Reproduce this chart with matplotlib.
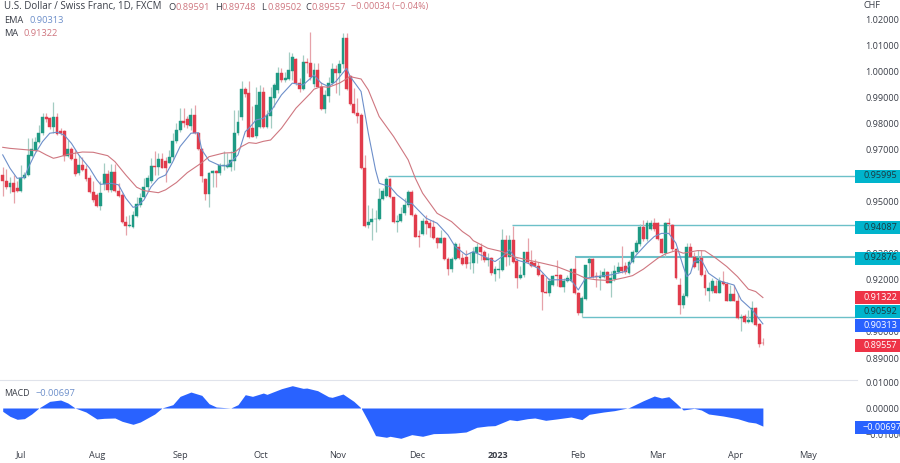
import matplotlib
matplotlib.use('Agg')
import matplotlib.pyplot as plt
from matplotlib.patches import Rectangle
import numpy as np

plt.rcParams['font.family'] = ['Open Sans', 'DejaVu Sans']

# daily candles, price x 10000
opens = [9602,9580,9555,9570,9551,9541,9589,9602,9676,9698,
         9730,9762,9826,9819,9785,9823,9772,9770,9675,9703,
         9663,9608,9642,9624,9589,9538,9525,9484,9568,9605,
         9545,9614,9542,9525,9423,9407,9401,9446,9487,9516,
         9555,9577,9637,9631,9662,9657,9649,9670,9734,9775,
         9809,9815,9791,9832,9762,9700,9585,9529,9608,9616,
         9608,9637,9634,9634,9657,9762,9823,9930,9915,9781,
         9752,9787,9922,9787,9828,9899,9928,9994,9966,9969,
         10002,10046,9954,9931,10034,10030,9951,10005,9941,9854,
         9905,9954,10007,9992,10028,10126,9983,9874,9841,9832,
         9628,9409,9422,9433,9433,9510,9523,9587,9516,9421,
         9427,9455,9485,9538,9449,9368,9376,9426,9417,9404,
         9359,9343,9359,9280,9242,9280,9325,9284,9287,9264,
         9266,9304,9325,9308,9276,9283,9223,9238,9238,9353,
         9287,9353,9272,9206,9219,9306,9267,9264,9253,9219,
         9155,9151,9180,9219,9219,9174,9197,9197,9241,9149,
         9072,9125,9266,9279,9215,9206,9212,9229,9189,9202,
         9229,9248,9251,9225,9270,9308,9338,9404,9356,9394,
         9419,9419,9356,9304,9417,9410,9320,9180,9104,9138,
         9325,9289,9266,9283,9219,9157,9157,9177,9151,9193,
         9184,9120,9146,9120,9053,9062,9040,9040,9091,9030,8959]
closes = [9580,9555,9570,9538,9541,9592,9602,9679,9700,9730,
          9762,9826,9816,9785,9826,9758,9764,9675,9703,9662,
          9606,9642,9621,9585,9538,9506,9484,9534,9605,9545,
          9614,9542,9523,9423,9407,9410,9449,9490,9515,9557,
          9589,9637,9631,9662,9630,9630,9670,9734,9775,9809,
          9800,9794,9832,9762,9700,9598,9529,9608,9616,9608,
          9640,9640,9640,9660,9762,9806,9930,9913,9749,9749,
          9870,9922,9785,9832,9902,9947,9994,9966,9973,10005,
          10056,9954,9931,10034,10030,9977,10005,9941,9854,9909,
          9954,10007,9992,10028,10126,9931,9874,9841,9828,9628,
          9407,9422,9435,9435,9510,9541,9587,9516,9421,9427,
          9453,9485,9538,9449,9366,9364,9426,9413,9400,9359,
          9343,9359,9280,9242,9280,9338,9284,9260,9261,9266,
          9308,9325,9308,9276,9283,9225,9241,9241,9353,9287,
          9353,9270,9206,9219,9306,9267,9253,9251,9219,9155,
          9151,9197,9215,9215,9174,9197,9206,9241,9149,9072,
          9129,9255,9279,9210,9209,9215,9229,9189,9206,9232,
          9248,9235,9228,9270,9308,9343,9404,9356,9417,9419,
          9394,9356,9304,9419,9414,9317,9206,9104,9138,9325,
          9289,9248,9283,9219,9168,9168,9197,9151,9197,9184,
          9120,9146,9120,9053,9059,9040,9044,9091,9027,8954,8956]
highs = [9631,9626,9593,9602,9577,9640,9615,9743,9743,9749,
         9794,9841,9841,9826,9883,9839,9781,9775,9736,9711,
         9698,9679,9672,9640,9602,9577,9532,9577,9649,9621,
         9644,9644,9570,9532,9445,9449,9462,9519,9532,9589,
         9602,9666,9692,9685,9685,9672,9698,9762,9800,9858,
         9858,9828,9858,9870,9768,9704,9589,9615,9621,9621,
         9647,9692,9685,9692,9851,9851,9964,9941,9964,9867,
         9941,9947,9941,9851,9941,9954,10017,10011,9998,10075,
         10069,10049,9973,10062,10049,10152,10030,10030,9960,9928,
         9979,10030,10024,10043,10148,10145,9985,9934,9896,9839,
         9679,9487,9474,9468,9551,9551,9596,9589,9519,9449,
         9481,9513,9545,9545,9455,9391,9436,9449,9430,9430,
         9366,9391,9366,9289,9289,9346,9340,9302,9315,9308,
         9327,9340,9340,9315,9302,9289,9251,9276,9394,9372,
         9372,9407,9283,9251,9308,9359,9315,9279,9270,9225,
         9212,9206,9219,9276,9223,9206,9219,9244,9287,9155,
         9136,9257,9287,9283,9228,9238,9244,9232,9232,9257,
         9270,9330,9270,9276,9315,9353,9414,9430,9430,9430,
         9436,9423,9359,9423,9436,9414,9321,9206,9148,9340,
         9340,9308,9315,9315,9238,9193,9206,9200,9212,9232,
         9193,9180,9180,9149,9069,9069,9085,9117,9094,9033,8975]
lows = [9522,9550,9532,9496,9538,9538,9586,9598,9672,9692,
        9724,9755,9807,9777,9762,9755,9755,9657,9672,9660,
        9598,9602,9619,9580,9532,9500,9481,9468,9545,9538,
        9538,9538,9519,9417,9372,9404,9398,9442,9481,9513,
        9545,9573,9602,9602,9628,9576,9647,9660,9723,9768,
        9787,9781,9775,9759,9698,9576,9506,9481,9557,9557,
        9602,9621,9628,9619,9621,9755,9813,9902,9743,9746,
        9743,9781,9781,9781,9781,9864,9915,9960,9960,9966,
        9966,9947,9922,9928,9992,9966,9941,9938,9851,9839,
        9883,9947,9915,9909,10011,9928,9870,9836,9800,9624,
        9401,9398,9353,9385,9430,9506,9519,9513,9417,9385,
        9423,9449,9481,9445,9363,9325,9372,9376,9366,9355,
        9321,9340,9276,9219,9231,9276,9279,9257,9244,9241,
        9225,9264,9276,9270,9251,9219,9197,9206,9232,9251,
        9257,9266,9168,9202,9212,9264,9248,9248,9215,9085,
        9148,9138,9177,9177,9171,9155,9193,9193,9146,9065,
        9056,9123,9212,9206,9174,9161,9206,9187,9133,9197,
        9225,9225,9223,9223,9264,9304,9330,9350,9347,9391,
        9389,9353,9302,9287,9376,9312,9202,9069,9091,9133,
        9287,9244,9238,9215,9142,9117,9148,9148,9148,9180,
        9117,9117,9117,9049,9005,9036,9036,9033,9023,8941,8950]

ma_idx = [0,2,7,10,12,14,15,18,22,25,29,31,34,37,39,43,45,48,51,55,57,61,64,66,68,70,72,74,77,81,85,86,
          88,90,93,96,99,101,104,108,112,114,116,120,124,127,129,130,134,138,141,145,149,153,156,159,161,
          164,168,172,174,177,181,183,186,188,192,194,197,200,203,206,208,210]
ma_vals = [9708,9704,9698,9694,9679,9666,9669,9681,9690,9689,9676,9653,9602,9555,9542,9534,9545,9573,9611,9649,9672,9686,9688,9711,9726,9723,9731,9736,9781,9858,9915,9931,
           9941,9938,9954,9979,9970,9928,9826,9749,9660,9589,9532,9455,9423,9385,9366,9350,9321,9308,9289,9276,9264,9251,9235,9219,9206,
           9200,9197,9209,9216,9241,9283,9299,9312,9302,9312,9311,9283,9251,9212,9164,9155,9132]

ema_idx = [0,2,4,6,7,9,11,13,15,17,19,21,24,26,27,30,32,34,36,37,39,41,43,45,47,49,52,54,55,57,60,62,65,67,68,70,72,74,77,80,83,86,
           88,90,92,95,96,99,101,103,104,107,109,112,113,117,120,123,125,128,130,133,136,138,140,142,145,148,151,154,157,159,161,164,168,172,
           175,178,180,182,184,186,188,189,190,191,193,195,198,202,204,207,209,210]
ema_vals = [9679,9628,9589,9593,9628,9685,9730,9762,9766,9755,9723,9679,9628,9583,9566,9570,9564,9513,9478,9481,9506,9557,9589,9602,9653,9711,9762,9764,9698,9657,9638,9637,9679,9768,9781,9813,9819,9845,9909,9954,9947,9985,
            9954,9941,9960,10011,9979,9922,9762,9621,9570,9557,9525,9493,9493,9436,9417,9372,9327,9295,9308,9289,9270,9289,9315,9276,9264,9244,9200,9200,9200,9161,9206,9212,9219,9232,
            9295,9340,9366,9378,9378,9340,9251,9212,9225,9270,9276,9225,9196,9180,9123,9085,9049,9031]

# MACD, x 100000
macd_idx = [0,2,4,6,8,10,13,16,18,20,23,26,28,31,33,36,38,42,44,47,49,52,55,57,59,63,65,67,69,72,73,77,80,83,84,87,90,91,94,97,99,101,103,106,107,110,113,116,119,123,
            125,128,131,134,136,140,142,145,147,150,153,157,160,162,166,169,173,177,180,182,184,186,188,191,193,195,199,203,206,208,210]
macd_vals = [-128,-320,-435,-410,-230,0,256,307,192,0,-154,-422,-397,-384,-512,-627,-538,-230,0,128,448,614,486,166,38,0,128,512,448,576,525,742,858,755,768,666,435,410,538,256,0,-512,-1062,-1126,-1088,-1165,-1024,-1088,-986,-973,
             -960,-922,-742,-691,-678,-448,-486,-410,-384,-474,-422,-346,-448,-243,-154,-102,13,282,461,384,435,192,-77,-13,-77,-230,-307,-410,-538,-576,-697]

# support / resistance levels: price, first candle
level_prices = [0.95995, 0.94087, 0.92876, 0.90592]
level_starts = [106.5, 140.7, 158, 160]
level_widths = [1.0, 1.0, 1.5, 1.0]

month_ticks = [5, 26, 49, 71.4, 92.6, 114.4, 136.8, 159, 180.8, 202.3, 222.5]
month_labels = ['Jul', 'Aug', 'Sep', 'Oct', 'Nov', 'Dec', '2023', 'Feb', 'Mar', 'Apr', 'May']
# 0.96, 0.94 and 0.91 sit fully behind the price tags
price_ticks = [1.02, 1.01, 1.00, 0.99, 0.98, 0.97, 0.95, 0.93, 0.92, 0.90, 0.89]
macd_ticks = [0.01, 0.0, -0.01]

# tag text, colours, pixel row of the tag on the price scale
tag_labels = ['0.95995', '0.94087', '0.92876', '0.91322', '0.90592', '0.90313', '0.89557', '\u22120.00697']
tag_rows = [176, 227, 258, 297, 311, 325.5, 345, 427]
tag_colors = ['#00b4cc', '#00b4cc', '#00b4cc', '#ee3347', '#00b4cc', '#2962ff', '#ee3347', '#2962ff']
tag_text = ['#1c3a42', '#1c3a42', '#1c3a42', 'white', '#1c3a42', 'white', 'white', 'white']

GREEN = '#1e9a84'
RED = '#e13c4c'
GREEN_WICK = '#a3ccc2'
RED_WICK = '#e6a2a9'
EMA_COL = '#6d8fca'
MA_COL = '#cf7780'
LEVEL_COL = '#6cc0c8'
TEXT = '#3a3e48'

o = np.array(opens) / 1e4
c = np.array(closes) / 1e4
h = np.array(highs) / 1e4
l = np.array(lows) / 1e4
idx = np.arange(len(o))
up = c >= o

fig = plt.figure(figsize=(9.0, 4.63), dpi=100)
W, H = 900.0, 463.0
XLIM = (-0.75, 236)

ax = fig.add_axes([0, 1 - 379 / H, 857 / W, 379 / H])
ax.set_xlim(*XLIM)
ax.set_ylim(0.88196, 1.02729)

for price, start, lw in zip(level_prices, level_starts, level_widths):
    ax.hlines(price, start, XLIM[1], color=LEVEL_COL, lw=lw, zorder=1)

ax.vlines(idx[up], l[up], h[up], color=GREEN_WICK, lw=0.9, zorder=2)
ax.vlines(idx[~up], l[~up], h[~up], color=RED_WICK, lw=0.9, zorder=2)
ax.bar(idx[up], (c - o)[up], bottom=o[up], width=0.8, color=GREEN, edgecolor=GREEN, lw=0.3, zorder=3)
ax.bar(idx[~up], (c - o)[~up], bottom=o[~up], width=0.8, color=RED, edgecolor=RED, lw=0.3, zorder=3)

ax.plot(ema_idx, np.array(ema_vals) / 1e4, color=EMA_COL, lw=0.8, zorder=4)
ax.plot(ma_idx, np.array(ma_vals) / 1e4, color=MA_COL, lw=0.8, zorder=4)

ax.set_xticks([])
ax.set_yticks(price_ticks)
ax.set_yticklabels(['%.5f' % p for p in price_ticks])
ax.yaxis.tick_right()
ax.tick_params(axis='y', length=0, pad=6, labelsize=6.6, labelcolor=TEXT)
for s in ax.spines.values():
    s.set_visible(False)

macd = fig.add_axes([0, 1 - 445 / H, 857 / W, 65 / H])
macd.set_xlim(*XLIM)
macd.set_ylim(-0.01423, 0.01077)
macd.fill_between(macd_idx, np.array(macd_vals) / 1e5, 0, color='#2962ff', lw=0)
macd.set_yticks(macd_ticks)
macd.set_yticklabels(['0.01000', '0.00000', '\u22120.01000'])
macd.yaxis.tick_right()
macd.tick_params(axis='y', length=0, pad=6, labelsize=6.6, labelcolor=TEXT)
macd.set_xticks(month_ticks)
macd.set_xticklabels(month_labels)
macd.tick_params(axis='x', length=0, pad=4, labelsize=6.6, labelcolor=TEXT)
macd.get_xticklabels()[6].set_fontweight('bold')
for s in macd.spines.values():
    s.set_visible(False)
macd.spines['top'].set_visible(True)
macd.spines['top'].set_color('#e0e3eb')
macd.spines['top'].set_linewidth(0.8)

# overlay in pixels for the price tags and the legend text
over = fig.add_axes([0, 0, 1, 1], zorder=10)
over.set_xlim(0, W)
over.set_ylim(H, 0)
over.axis('off')
for label, row, col, tc in zip(tag_labels, tag_rows, tag_colors, tag_text):
    over.add_patch(Rectangle((855, row - 6.5), 45, 13, color=col, lw=0))
    over.text(863, row, label, color=tc, fontsize=6.6, va='center', ha='left', clip_on=True)

over.text(863, 5, 'CHF', color=TEXT, fontsize=6.6, va='center')

over.text(4, 7, 'U.S. Dollar / Swiss Franc, 1D, FXCM', color=TEXT, fontsize=7.05, va='center')
vals = [('O', '0.89591', 168), ('H', '0.89748', 215), ('L', '0.89502', 261), ('C', '0.89557', 305)]
for key, val, px in vals:
    over.text(px, 7, key, color=TEXT, fontsize=6.7, va='center')
    over.text(px + 7, 7, val, color=MA_COL, fontsize=6.7, va='center')
over.text(351, 7, '\u22120.00034 (\u22120.04%)', color=MA_COL, fontsize=6.5, va='center')
over.text(4, 20.5, 'EMA', color=TEXT, fontsize=6.7, va='center')
over.text(29, 20.5, '0.90313', color=EMA_COL, fontsize=6.7, va='center')
over.text(4, 34, 'MA', color=TEXT, fontsize=6.7, va='center')
over.text(24, 34, '0.91322', color=MA_COL, fontsize=6.7, va='center')
over.text(4, 393, 'MACD', color=TEXT, fontsize=6.4, va='center')
over.text(36, 393, '\u22120.00697', color=EMA_COL, fontsize=6.7, va='center')

fig.savefig('out.png', dpi=100)
